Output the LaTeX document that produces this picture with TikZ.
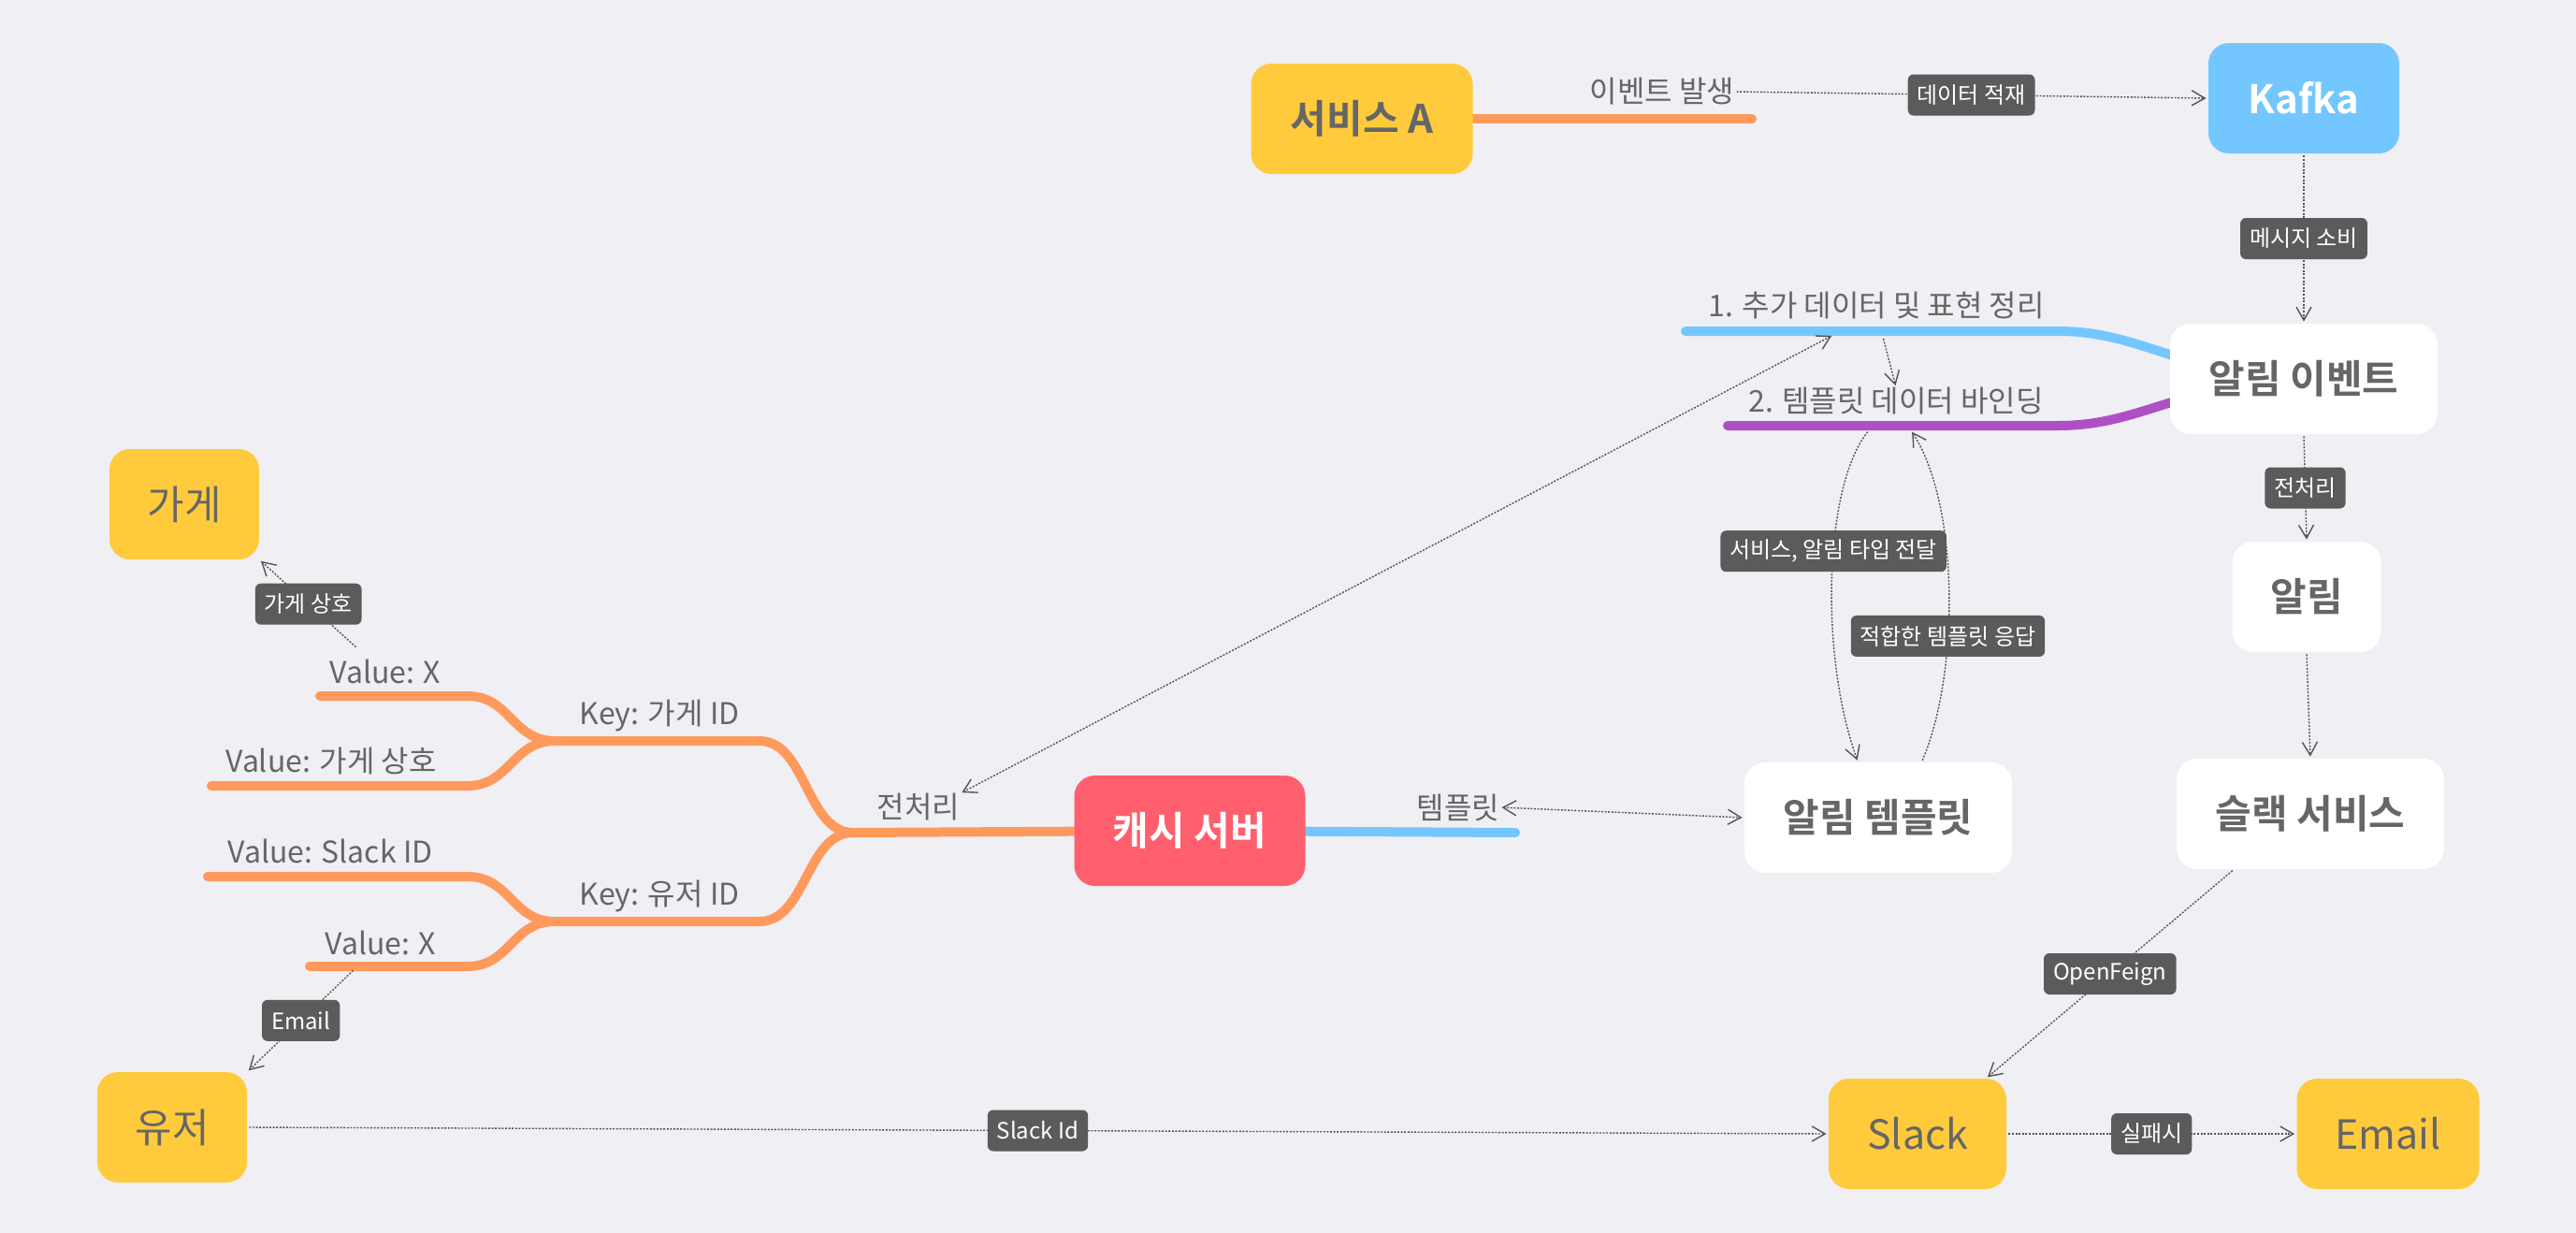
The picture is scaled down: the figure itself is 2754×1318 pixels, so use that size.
\documentclass[tikz,border=0pt]{standalone}
\usepackage{fontspec}
\setmainfont{Noto Sans CJK KR}[BoldFont={Noto Sans CJK KR Bold}]
\usetikzlibrary{arrows.meta,backgrounds}
\definecolor{canvas}{RGB}{239,239,244}
\definecolor{topicyellow}{RGB}{255,203,61}
\definecolor{kafkablue}{RGB}{116,198,255}
\definecolor{cachered}{RGB}{255,95,109}
\definecolor{branchorange}{RGB}{255,153,92}
\definecolor{branchpurple}{RGB}{175,79,198}
\definecolor{taggray}{RGB}{91,91,91}
\definecolor{textgray}{RGB}{102,102,102}
\definecolor{linkgray}{RGB}{85,85,85}

\begin{document}
\begin{tikzpicture}[x=0.5pt,y=-0.5pt,>={Straight Barb[length=7pt,width=8pt]},
	topic/.style={rounded corners=11pt,minimum height=59pt,inner sep=0pt,text=textgray,font=\fontsize{21}{25}\selectfont\bfseries},
	plaintopic/.style={topic,fill=topicyellow,font=\fontsize{21.5}{25}\selectfont},
	tag/.style={fill=taggray,rounded corners=3pt,text=white,font=\fontsize{12}{14}\selectfont,inner xsep=5pt,inner ysep=0pt,minimum height=22pt},
	branchlabel/.style={text=textgray,font=\fontsize{16}{19}\selectfont,inner sep=0pt},
	branch/.style={line width=5pt,line cap=round},
	link/.style={draw=linkgray,line width=0.7pt,dash pattern=on 1pt off 0.8pt,shorten >=1pt,shorten <=1pt}]
	\useasboundingbox (0,0) rectangle (2754,1318);

	\node[topic,fill=topicyellow,minimum width=118.5pt] (svc) at (1456,127) {서비스 A};
	\node[topic,fill=kafkablue,text=white,minimum width=102pt] (kafka) at (2463,105) {Kafka};
	\node[topic,fill=white,minimum width=143pt] (evt) at (2463,405) {알림 이벤트};
	\node[topic,fill=white,minimum width=79.5pt] (alarm) at (2466,638) {알림};
	\node[topic,fill=white,minimum width=143pt] (slacksvc) at (2470,870) {슬랙 서비스};
	\node[topic,fill=white,minimum width=143pt] (tmpl) at (2008,874) {알림 템플릿};
	\node[topic,fill=cachered,text=white,minimum width=123.5pt] (cache) at (1272,888) {캐시 서버};
	\node[plaintopic,minimum width=80pt] (store) at (197,539) {가게};
	\node[plaintopic,minimum width=80pt] (user) at (184,1205) {유저};
	\node[plaintopic,minimum width=95pt] (slack) at (2050,1212) {Slack};
	\node[plaintopic,minimum width=97.5pt] (email) at (2553,1212) {Email};

	\node[branchlabel] (evtlbl) at (1777,98) {이벤트 발생};
	\node[branchlabel] (addlbl) at (2006,327) {1. 추가 데이터 및 표현 정리};
	\node[branchlabel] (bindlbl) at (2027,429) {2. 템플릿 데이터 바인딩};
	\node[branchlabel] (tpllbl) at (1559,863) {템플릿};
	\node[branchlabel] (prelbl) at (982,863) {전처리};
	\node[branchlabel] (k1lbl) at (705,765) {Key: 가게 ID};
	\node[branchlabel] (k2lbl) at (705,958) {Key: 유저 ID};
	\node[branchlabel] (vx1lbl) at (412,718) {Value: X};
	\node[branchlabel] (vnamelbl) at (354,814) {Value: 가게 상호};
	\node[branchlabel] (vslacklbl) at (353,910) {Value: Slack ID};
	\node[branchlabel] (vx2lbl) at (407,1008) {Value: X};

	\coordinate (evtend) at (1873,127);
	\coordinate (addend) at (1802,354);
	\coordinate (bindend) at (1847,455);
	\coordinate (tplend) at (1620,890);
	\coordinate (rootj) at (912,890);
	\coordinate (keystorej) at (593,792);
	\coordinate (keyuserj) at (593,985);
	\coordinate (vx1end) at (342,744);
	\coordinate (vnameend) at (226,840);
	\coordinate (vslackend) at (222,937);
	\coordinate (vx2end) at (331,1033);
	\coordinate (vx1pt) at (382,693);
	\coordinate (vx2pt) at (379,1036);
	\coordinate (addpt) at (1960,358);
	\coordinate (addsrc) at (2013,360);
	\coordinate (bindsrc) at (1998,460);
	\coordinate (bindtip) at (2043,460);

	\begin{scope}[on background layer]
		\fill[canvas] (0,0) rectangle (2754,1318);
		\draw[branch,branchorange] (svc.center) to (evtend);
		\draw[branch,kafkablue] (evt.center) .. controls (2330,400) and (2290,354) .. (2200,354) to (addend);
		\draw[branch,branchpurple] (evt.center) .. controls (2330,410) and (2290,455) .. (2200,455) to (bindend);
		\draw[branch,kafkablue] (cache.center) to (tplend);
		\draw[branch,branchorange] (cache.center) to (rootj);
		\draw[branch,branchorange] (rootj) .. controls (862,890) and (862,792) .. (812,792) to (keystorej);
		\draw[branch,branchorange] (rootj) .. controls (862,890) and (862,985) .. (812,985) to (keyuserj);
		\draw[branch,branchorange] (keystorej) .. controls (548,792) and (545,744) .. (500,744) to (vx1end);
		\draw[branch,branchorange] (keystorej) .. controls (548,792) and (545,840) .. (500,840) to (vnameend);
		\draw[branch,branchorange] (keyuserj) .. controls (548,985) and (545,937) .. (500,937) to (vslackend);
		\draw[branch,branchorange] (keyuserj) .. controls (548,985) and (545,1033) .. (500,1033) to (vx2end);
	\end{scope}

	\draw[link,->] (evtlbl.east) to node[tag] {데이터 적재} (kafka.west);
	\draw[link,->] (kafka.south) to node[tag] {메시지 소비} (evt.north);
	\draw[link,->] (evt.south) to node[tag] {전처리} (alarm.north);
	\draw[link,->] (alarm.south) to (slacksvc.north);
	\draw[link,->] (slacksvc.216) to node[tag] {OpenFeign} (slack.39);
	\draw[link,->] (user.east) to node[tag] {Slack Id} (slack.west);
	\draw[link,->] (slack.east) to node[tag] {실패시} (email.west);
	\draw[link,->] (vx2pt) to node[tag] {Email} (user.north east);
	\draw[link,->] (vx1pt) to node[tag] {가게 상호} (store.south east);
	\draw[link,<->] (tpllbl.east) to (tmpl.west);
	\draw[link,<->] (prelbl.north east) to (addpt);
	\draw[link,->] (addsrc) to (bindlbl.north);
	\draw[link,->] (bindsrc) .. controls (1950,520) and (1945,700) .. node[tag,pos=0.43] {서비스, 알림 타입 전달} (tmpl.110);
	\draw[link,->] (tmpl.52) .. controls (2095,720) and (2095,540) .. node[tag,pos=0.38] {적합한 템플릿 응답} (bindtip);
\end{tikzpicture}
\end{document}
